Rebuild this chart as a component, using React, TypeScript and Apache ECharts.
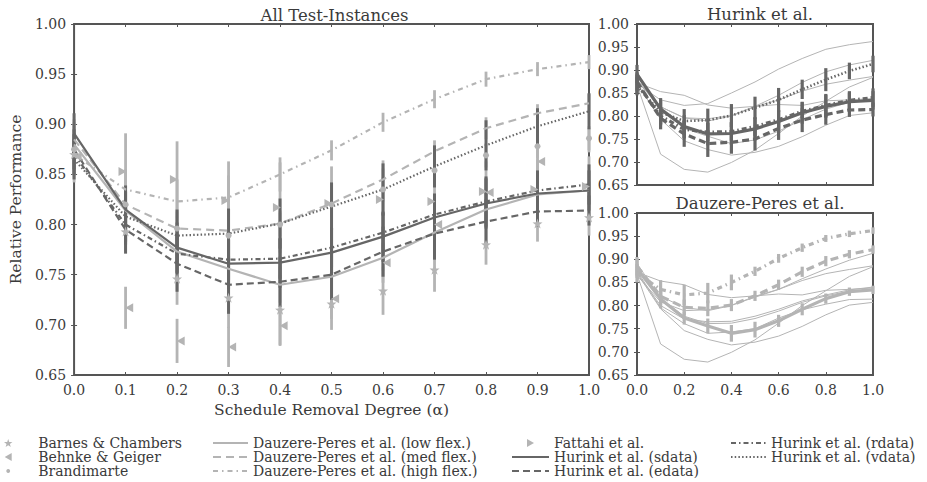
import React, { useEffect, useRef } from "react";
import * as echarts from "echarts";

// ---------- data ----------
const X = [0, 0.1, 0.2, 0.3, 0.4, 0.5, 0.6, 0.7, 0.8, 0.9, 1.0];

const barnes = [0.870, 0.793, 0.746, 0.727, 0.715, 0.721, 0.734, 0.755, 0.780, 0.801, 0.807];
const behnke = [0.868, 0.717, 0.684, 0.678, 0.699, 0.726, 0.762, 0.800, 0.832, 0.863, 0.884];
const brandimarte = [0.875, 0.820, 0.796, 0.789, 0.800, 0.820, 0.835, 0.854, 0.869, 0.878, 0.886];
const fattahi = [0.872, 0.853, 0.845, 0.824, 0.817, 0.821, 0.825, 0.823, 0.833, 0.835, 0.838];

const lowFlex = [0.880, 0.814, 0.773, 0.756, 0.740, 0.748, 0.767, 0.792, 0.815, 0.830, 0.834];
const medFlex = [0.885, 0.820, 0.796, 0.794, 0.801, 0.821, 0.845, 0.873, 0.896, 0.911, 0.921];
const highFlex = [0.870, 0.835, 0.823, 0.827, 0.850, 0.874, 0.902, 0.925, 0.945, 0.955, 0.962];

const sdata = [0.891, 0.815, 0.777, 0.761, 0.762, 0.772, 0.788, 0.807, 0.821, 0.831, 0.834];
const edata = [0.875, 0.795, 0.761, 0.740, 0.743, 0.750, 0.773, 0.791, 0.803, 0.813, 0.814];
const rdata = [0.870, 0.800, 0.771, 0.765, 0.766, 0.777, 0.792, 0.810, 0.823, 0.834, 0.840];
const vdata = [0.865, 0.808, 0.789, 0.791, 0.801, 0.818, 0.835, 0.858, 0.879, 0.898, 0.913];

// error half-widths
const barnesErr = [0.02, 0.02, 0.026, 0.03, 0.035, 0.026, 0.024, 0.022, 0.02, 0.018, 0.018];
const behnkeErr = [0.02, 0.021, 0.022, 0.02, 0.02, 0.02, 0.02, 0.02, 0.015, 0.012, 0.012];
const brandimarteErr = [0.01, 0.012, 0.012, 0.012, 0.012, 0.012, 0.012, 0.012, 0.012, 0.012, 0.012];
const fattahiErr = [0.03, 0.038, 0.038, 0.039, 0.045, 0.037, 0.039, 0.03, 0.03, 0.03, 0.03];
const lowErr = [0.02, 0.02, 0.014, 0.016, 0.018, 0.017, 0.013, 0.013, 0.011, 0.009, 0.009];
const medErr = [0.02, 0.018, 0.017, 0.017, 0.013, 0.011, 0.011, 0.011, 0.011, 0.009, 0.009];
const highErr = [0.02, 0.02, 0.022, 0.022, 0.017, 0.01, 0.0095, 0.009, 0.0075, 0.007, 0.007];
const sErr = [0.02, 0.024, 0.025, 0.025, 0.025, 0.025, 0.025, 0.024, 0.025, 0.02, 0.02];
const eErr = [0.02, 0.024, 0.028, 0.029, 0.025, 0.025, 0.025, 0.026, 0.022, 0.015, 0.015];
const rErr = [0.02, 0.02, 0.02, 0.02, 0.02, 0.02, 0.02, 0.02, 0.025, 0.02, 0.02];
const vErr = [0.02, 0.025, 0.026, 0.025, 0.025, 0.024, 0.026, 0.021, 0.025, 0.018, 0.018];

const TITLES = ["All Test-Instances", "Hurink et al.", "Dauzere-Peres et al."];

// ---------- styles ----------
const DARK = "#666666";
const LIGHT = "#b4b4b4";
const TEXT = "#3a3a3a";
const FONT = "DejaVu Serif";
const STAR =
  "path://M0 -1 L0.235 -0.324 L0.951 -0.309 L0.380 0.124 L0.588 0.809 L0 0.4 L-0.588 0.809 L-0.380 0.124 L-0.951 -0.309 L-0.235 -0.324 Z";
const STAR_ICON =
  "path://M5 0 L6.18 3.38 L9.76 3.45 L6.9 5.62 L7.94 9.05 L5 7 L2.06 9.05 L3.1 5.62 L0.24 3.45 L3.82 3.38 Z";
const TRI_LEFT = "path://M0 5 L8.7 0 L8.7 10 Z";
const TRI_RIGHT = "path://M8.7 5 L0 0 L0 10 Z";
const DOT_ICON = "path://M0 0 L0.01 0 Z M10 10 L9.99 10 Z M5 2.6 A2.4 2.4 0 1 1 4.999 2.6 Z";

const N_BARNES = "Barnes & Chambers";
const N_BEHNKE = "Behnke & Geiger";
const N_BRAND = "Brandimarte";
const N_FATT = "Fattahi et al.";
const N_LOW = "Dauzere-Peres et al. (low flex.)";
const N_MED = "Dauzere-Peres et al. (med flex.)";
const N_HIGH = "Dauzere-Peres et al. (high flex.)";
const N_S = "Hurink et al. (sdata)";
const N_E = "Hurink et al. (edata)";
const N_R = "Hurink et al. (rdata)";
const N_V = "Hurink et al. (vdata)";

const pairs = (ys: number[], dx = 0) => X.map((x, i) => [x + dx, ys[i]]);

function errSeries(name: string, gi: number, ys: number[], errs: number[], color: string, w: number, z: number) {
  return {
    type: "custom",
    name,
    xAxisIndex: gi,
    yAxisIndex: gi,
    z,
    silent: true,
    encode: { x: 0, y: [1, 2] },
    data: X.map((x, i) => [x, ys[i] - errs[i], ys[i] + errs[i]]),
    renderItem: (params: any, api: any) => {
      const x = api.value(0);
      const lo = Math.max(0.65, api.value(1));
      const hi = Math.min(1.0, api.value(2));
      const p1 = api.coord([x, lo]);
      const p2 = api.coord([x, hi]);
      return {
        type: "line",
        shape: { x1: p1[0], y1: p1[1], x2: p2[0], y2: p2[1] },
        style: { stroke: color, lineWidth: w },
      };
    },
  };
}

function lineSeries(name: string, gi: number, ys: number[], color: string, width: number, type: any, z: number) {
  return {
    type: "line",
    name,
    xAxisIndex: gi,
    yAxisIndex: gi,
    data: pairs(ys),
    symbol: "none",
    z,
    silent: true,
    itemStyle: { color: "rgba(0,0,0,0)", borderWidth: 0 },
    lineStyle: { color, width, type },
  };
}

function scatterSeries(name: string, ys: number[], dx: number, symbol: string, size: any, rotate: number) {
  return {
    type: "scatter",
    name,
    xAxisIndex: 0,
    yAxisIndex: 0,
    data: pairs(ys, dx),
    symbol,
    symbolSize: size,
    symbolRotate: rotate,
    z: 6,
    silent: true,
    itemStyle: { color: LIGHT, opacity: 1 },
  };
}

const DASH_MED = [8, 5];
const DASH_E = [7, 4];
const DASH_HIGH = [5, 4, 1.5, 4];
const DASH_R = [5, 3, 1.5, 3];
const DOT = [1.5, 2.2];

export default function App() {
  const ref = useRef<HTMLDivElement>(null);
  useEffect(() => {
    if (!ref.current) return;
    const chart = echarts.init(ref.current, undefined, { renderer: "svg" });

    const grids = [
      { left: 70, top: 24, width: 519, height: 351 },
      { left: 637, top: 24, width: 236, height: 161 },
      { left: 637, top: 213, width: 236, height: 162 },
    ].map((g) => ({ ...g, show: true, borderColor: "#555555", borderWidth: 2, backgroundColor: "transparent" }));

    const tick = { show: true, inside: true, length: 3, lineStyle: { color: "#555555", width: 1 } };
    const label = { color: TEXT, fontSize: 14, fontFamily: FONT };

    const xAxes: any[] = [];
    const yAxes: any[] = [];
    [0, 1, 2].forEach((gi) => {
      const step = gi === 0 ? 0.1 : 0.2;
      xAxes.push({
        type: "value",
        gridIndex: gi,
        min: 0,
        max: 1,
        interval: step,
        axisLine: { show: false },
        axisTick: tick,
        splitLine: { show: false },
        axisLabel: { ...label, show: gi !== 1, margin: 8, formatter: (v: number) => v.toFixed(1) },
        ...(gi === 0
          ? {
              name: "Schedule Removal Degree (\u03b1)",
              nameLocation: "middle",
              nameGap: 22,
              nameTextStyle: { color: TEXT, fontSize: 15.5, fontFamily: FONT },
            }
          : {}),
      });
      yAxes.push({
        type: "value",
        gridIndex: gi,
        min: 0.65,
        max: 1.0,
        interval: 0.05,
        axisLine: { show: false },
        axisTick: tick,
        splitLine: { show: false },
        axisLabel: { ...label, margin: 8, formatter: (v: number) => v.toFixed(2) },
        ...(gi === 0
          ? {
              name: "Relative Performance",
              nameLocation: "middle",
              nameGap: 48,
              nameTextStyle: { color: TEXT, fontSize: 15.5, fontFamily: FONT },
            }
          : {}),
      });
    });
    [0, 1, 2].forEach((gi) => {
      const step = gi === 0 ? 0.1 : 0.2;
      xAxes.push({
        type: "value",
        gridIndex: gi,
        position: "top",
        min: 0,
        max: 1,
        interval: step,
        axisLine: { show: false },
        axisTick: tick,
        splitLine: { show: false },
        axisLabel: { show: false },
      });
      yAxes.push({
        type: "value",
        gridIndex: gi,
        position: "right",
        min: 0.65,
        max: 1.0,
        interval: 0.05,
        axisLine: { show: false },
        axisTick: tick,
        splitLine: { show: false },
        axisLabel: { show: false },
      });
    });

    const series: any[] = [];
    // ---- main grid ----
    series.push(errSeries("eb-barnes", 0, barnes, barnesErr, LIGHT, 2.8, 1));
    series.push(errSeries("eb-behnke", 0, behnke, behnkeErr, LIGHT, 2.8, 1));
    series.push(errSeries("eb-fattahi", 0, fattahi, fattahiErr, LIGHT, 2.8, 1));
    series.push(errSeries("eb-brand", 0, brandimarte, brandimarteErr, LIGHT, 2.8, 1));
    series.push(errSeries("eb-low", 0, lowFlex, lowErr, LIGHT, 2.8, 1));
    series.push(errSeries("eb-med", 0, medFlex, medErr, LIGHT, 2.8, 1));
    series.push(errSeries("eb-high", 0, highFlex, highErr, LIGHT, 2.8, 1));
    series.push(errSeries("eb-s", 0, sdata, sErr, DARK, 3, 2));
    series.push(errSeries("eb-e", 0, edata, eErr, DARK, 3, 2));
    series.push(errSeries("eb-r", 0, rdata, rErr, DARK, 3, 2));
    series.push(errSeries("eb-v", 0, vdata, vErr, DARK, 3, 2));

    series.push(lineSeries(N_LOW, 0, lowFlex, LIGHT, 2.2, "solid", 3));
    series.push(lineSeries(N_MED, 0, medFlex, LIGHT, 2.2, DASH_MED, 3));
    series.push(lineSeries(N_HIGH, 0, highFlex, LIGHT, 2.2, DASH_HIGH, 3));
    series.push(lineSeries(N_S, 0, sdata, DARK, 2.2, "solid", 4));
    series.push(lineSeries(N_E, 0, edata, DARK, 2.2, DASH_E, 4));
    series.push(lineSeries(N_R, 0, rdata, DARK, 2.2, DASH_R, 4));
    series.push(lineSeries(N_V, 0, vdata, DARK, 2.2, DOT, 4));

    series.push(scatterSeries(N_BARNES, barnes, 0, STAR, 10, 0));
    series.push(scatterSeries(N_BEHNKE, behnke, 0.007, "triangle", [9, 8], 90));
    series.push(scatterSeries(N_BRAND, brandimarte, 0, "circle", 6, 0));
    series.push(scatterSeries(N_FATT, fattahi, -0.006, "triangle", [9, 8], -90));

    // ---- Hurink subplot ----
    [barnes, behnke, brandimarte, fattahi, lowFlex, medFlex, highFlex].forEach((ys, k) => {
      series.push(lineSeries("h-thin-" + k, 1, ys, LIGHT, 1, "solid", 2));
    });
    series.push(errSeries("h-eb-s", 1, sdata, sErr, DARK, 3.2, 3));
    series.push(errSeries("h-eb-e", 1, edata, eErr, DARK, 3.2, 3));
    series.push(errSeries("h-eb-r", 1, rdata, rErr, DARK, 3.2, 3));
    series.push(errSeries("h-eb-v", 1, vdata, vErr, DARK, 3.2, 3));
    series.push(lineSeries("h-s", 1, sdata, DARK, 3.2, "solid", 4));
    series.push(lineSeries("h-e", 1, edata, DARK, 3.2, DASH_E, 4));
    series.push(lineSeries("h-r", 1, rdata, DARK, 3.2, DASH_R, 4));
    series.push(lineSeries("h-v", 1, vdata, DARK, 2.6, DOT, 4));

    // ---- Dauzere subplot ----
    [barnes, behnke, brandimarte, fattahi, sdata, edata, rdata, vdata].forEach((ys, k) => {
      series.push(lineSeries("d-thin-" + k, 2, ys, LIGHT, 1, "solid", 2));
    });
    series.push(errSeries("d-eb-low", 2, lowFlex, lowErr, LIGHT, 3.2, 3));
    series.push(errSeries("d-eb-med", 2, medFlex, medErr, LIGHT, 3.2, 3));
    series.push(errSeries("d-eb-high", 2, highFlex, highErr, LIGHT, 3.2, 3));
    series.push(lineSeries("d-low", 2, lowFlex, LIGHT, 3.2, "solid", 4));
    series.push(lineSeries("d-med", 2, medFlex, LIGHT, 3.2, DASH_MED, 4));
    series.push(lineSeries("d-high", 2, highFlex, LIGHT, 3.2, DASH_HIGH, 4));

    const legendText = { color: TEXT, fontSize: 14, fontFamily: FONT, lineHeight: 14 };
    const legendBase = {
      orient: "vertical",
      top: 436,
      height: 46,
      padding: 0,
      itemGap: 0,
      itemHeight: 8,
      selectedMode: false,
      symbolRotate: 0,
      textStyle: legendText,
    };

    chart.setOption({
      animation: false,
      backgroundColor: "#ffffff",
      title: [
        { text: TITLES[0], left: 329.5, top: 2, textAlign: "center" },
        { text: TITLES[1], left: 755, top: 1, textAlign: "center" },
        { text: TITLES[2], left: 755, top: 190, textAlign: "center" },
      ].map((t) => ({ ...t, textStyle: { color: TEXT, fontSize: 16.5, fontWeight: "normal", fontFamily: FONT } })),
      grid: grids,
      xAxis: xAxes,
      yAxis: yAxes,
      legend: [
        {
          ...legendBase,
          left: 4,
          itemWidth: 18,
          textStyle: { ...legendText, padding: [0, 0, 0, 16] },
          data: [
            { name: N_BARNES, icon: STAR_ICON },
            { name: N_BEHNKE, icon: TRI_LEFT },
            { name: N_BRAND, icon: DOT_ICON },
          ],
        },
        { ...legendBase, left: 212, itemWidth: 35, data: [N_LOW, N_MED, N_HIGH] },
        { ...legendBase, left: 511, itemWidth: 37, data: [{ name: N_FATT, icon: TRI_RIGHT }, N_S, N_E] },
        { ...legendBase, left: 730, itemWidth: 35, data: [N_R, N_V] },
      ],
      series,
    });
    return () => chart.dispose();
  }, []);
  return <div ref={ref} style={{ width: 927, height: 482, position: "absolute", left: 0, top: 0 }} />;
}
